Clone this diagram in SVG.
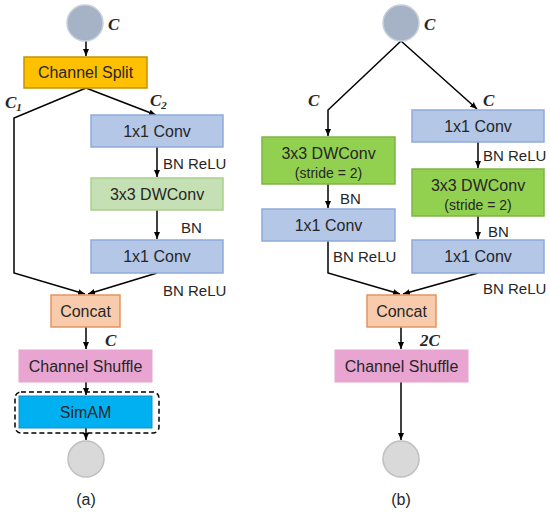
<svg xmlns="http://www.w3.org/2000/svg" width="550" height="513" viewBox="0 0 550 513">
<defs>
<marker id="ah" markerWidth="8" markerHeight="8" refX="7" refY="4" orient="auto" markerUnits="userSpaceOnUse">
<path d="M0,1 L7,4 L0,7 Z" fill="#000"/>
</marker>
<style>
.t{font-family:"Liberation Sans",Arial,sans-serif;font-size:16px;fill:#262626;text-anchor:middle}
.s{font-family:"Liberation Sans",Arial,sans-serif;font-size:14px;fill:#262626;text-anchor:middle}
.l{font-family:"Liberation Sans",Arial,sans-serif;font-size:15px;fill:#262626}
.c{font-family:"Liberation Serif","Times New Roman",serif;font-size:17px;font-weight:bold;font-style:italic;fill:#262626}
.w{fill:none;stroke:#000;stroke-width:1.5}
.blue{fill:#b4c7e7;stroke:#8faadc;stroke-width:1.5}
.lg{fill:#c5e0b4;stroke:#a9d18e;stroke-width:1.5}
.g{fill:#92d050;stroke:#7fb446;stroke-width:1.5}
.or{fill:#f8cbad;stroke:#e3955f;stroke-width:1.5}
.pk{fill:#e8a5d2;stroke:#e8a5d2;stroke-width:1}
.yl{fill:#ffc000;stroke:#c49200;stroke-width:1.5}
.cy{fill:#00b0f0;stroke:#1a8fbf;stroke-width:1}
.in{fill:#a6b2c6;stroke:#c8d0dc;stroke-width:1.5}
.out{fill:#d9d9d9;stroke:#bfbfbf;stroke-width:1.5}
</style>
</defs>
<rect width="550" height="513" fill="#fff"/>

<g id="connectors">
<!-- panel a -->
<line class="w" x1="86" y1="41" x2="86" y2="56" marker-end="url(#ah)"/>
<polyline class="w" points="86,88 14,118 14,273 85,294" marker-end="url(#ah)"/>
<line class="w" x1="86" y1="88" x2="156" y2="115" marker-end="url(#ah)"/>
<line class="w" x1="157" y1="147" x2="157" y2="177" marker-end="url(#ah)"/>
<line class="w" x1="157" y1="210" x2="157" y2="239" marker-end="url(#ah)"/>
<line class="w" x1="157" y1="273" x2="88" y2="294" marker-end="url(#ah)"/>
<line class="w" x1="86" y1="327" x2="86" y2="349" marker-end="url(#ah)"/>
<line class="w" x1="86" y1="382" x2="86" y2="395" marker-end="url(#ah)"/>
<line class="w" x1="86" y1="428" x2="86" y2="440" marker-end="url(#ah)"/>
<!-- panel b -->
<polyline class="w" points="401,41 328,110 328,136" marker-end="url(#ah)"/>
<line class="w" x1="401" y1="41" x2="477" y2="109" marker-end="url(#ah)"/>
<line class="w" x1="328" y1="184" x2="328" y2="208" marker-end="url(#ah)"/>
<polyline class="w" points="328,241 328,273 400,294" marker-end="url(#ah)"/>
<line class="w" x1="478" y1="142" x2="478" y2="168" marker-end="url(#ah)"/>
<line class="w" x1="478" y1="216" x2="478" y2="239" marker-end="url(#ah)"/>
<line class="w" x1="478" y1="273" x2="403" y2="294" marker-end="url(#ah)"/>
<line class="w" x1="401" y1="327" x2="401" y2="349" marker-end="url(#ah)"/>
<line class="w" x1="401" y1="382" x2="401" y2="440" marker-end="url(#ah)"/>
</g>

<g id="labels">
<text class="c" x="108" y="30">C</text>
<text class="c" x="5" y="108">C<tspan font-size="11" dy="3">1</tspan></text>
<text class="c" x="150" y="106">C<tspan font-size="11" dy="3">2</tspan></text>
<text class="l" x="163" y="169">BN ReLU</text>
<text class="l" x="181" y="233">BN</text>
<text class="l" x="163" y="296">BN ReLU</text>
<text class="c" x="105" y="346">C</text>
<text class="c" x="424" y="30">C</text>
<text class="c" x="308" y="106">C</text>
<text class="c" x="483" y="106">C</text>
<text class="l" x="483" y="161">BN ReLU</text>
<text class="l" x="488" y="237">BN</text>
<text class="l" x="340" y="204">BN</text>
<text class="l" x="333" y="262">BN ReLU</text>
<text class="l" x="483" y="294">BN ReLU</text>
<text class="c" x="420" y="346">2C</text>
<text class="t" x="86" y="505">(a)</text>
<text class="t" x="401" y="505">(b)</text>
</g>

<g id="a-input"><circle class="in" cx="85" cy="23" r="18"/></g>
<g id="a-split"><rect class="yl" x="24" y="57" width="123" height="31"/><text class="t" x="85.5" y="78">Channel Split</text></g>
<g id="a-conv1"><rect class="blue" x="91" y="115" width="132" height="32"/><text class="t" x="157" y="137">1x1 Conv</text></g>
<g id="a-dw"><rect class="lg" x="91" y="178" width="132" height="32"/><text class="t" x="157" y="200">3x3 DWConv</text></g>
<g id="a-conv2"><rect class="blue" x="91" y="240" width="132" height="33"/><text class="t" x="157" y="262">1x1 Conv</text></g>
<g id="a-concat"><rect class="or" x="51" y="295" width="69" height="32"/><text class="t" x="85.5" y="317">Concat</text></g>
<g id="a-shuffle"><rect class="pk" x="19" y="350" width="133" height="32"/><text class="t" x="85.5" y="372">Channel Shuffle</text></g>
<g id="a-simam"><rect x="15" y="392" width="144" height="41" rx="6" fill="none" stroke="#000" stroke-width="1.5" stroke-dasharray="5,3"/><rect class="cy" x="19" y="396" width="133" height="32"/><text class="t" x="85.5" y="418">SimAM</text></g>
<g id="a-output"><circle class="out" cx="86" cy="459" r="18"/></g>

<g id="b-input"><circle class="in" cx="401" cy="23" r="18"/></g>
<g id="b-dwl"><rect class="g" x="262" y="137" width="133" height="47"/><text class="t" x="328.5" y="159">3x3 DWConv</text><text class="s" x="328.5" y="178">(stride = 2)</text></g>
<g id="b-convl"><rect class="blue" x="262" y="209" width="133" height="32"/><text class="t" x="328.5" y="231">1x1 Conv</text></g>
<g id="b-conv1"><rect class="blue" x="412" y="110" width="132" height="32"/><text class="t" x="478" y="132">1x1 Conv</text></g>
<g id="b-dwr"><rect class="g" x="412" y="169" width="132" height="47"/><text class="t" x="478" y="191">3x3 DWConv</text><text class="s" x="478" y="210">(stride = 2)</text></g>
<g id="b-conv2"><rect class="blue" x="412" y="240" width="132" height="33"/><text class="t" x="478" y="262">1x1 Conv</text></g>
<g id="b-concat"><rect class="or" x="367" y="295" width="69" height="32"/><text class="t" x="401.5" y="317">Concat</text></g>
<g id="b-shuffle"><rect class="pk" x="335" y="350" width="133" height="32"/><text class="t" x="401.5" y="372">Channel Shuffle</text></g>
<g id="b-output"><circle class="out" cx="401" cy="459" r="18"/></g>
</svg>
